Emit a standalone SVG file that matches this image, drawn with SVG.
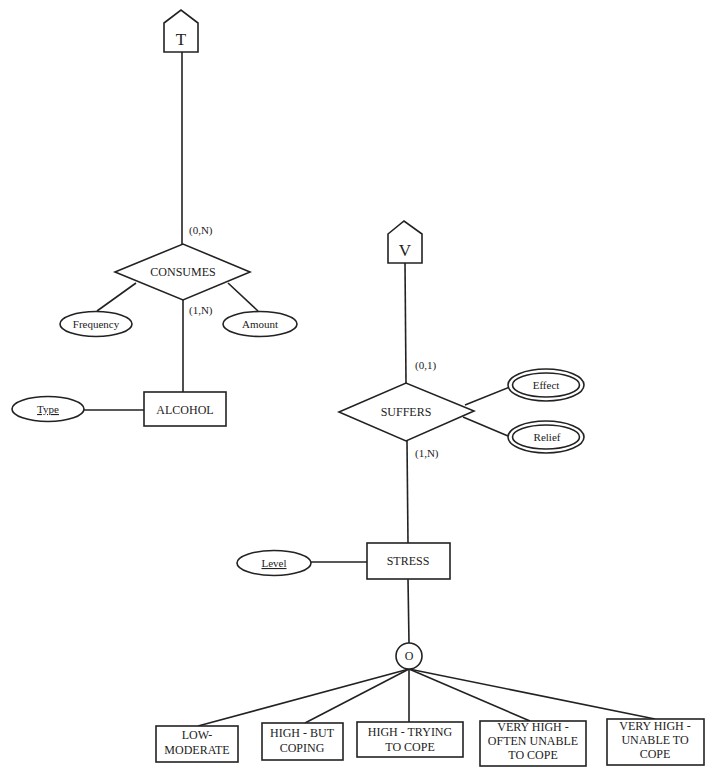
<svg xmlns="http://www.w3.org/2000/svg" width="706" height="768" viewBox="0 0 706 768" font-family="'Liberation Serif', 'DejaVu Serif', 'Times New Roman', serif">
<style>
  .s{fill:#fff;stroke:#222;stroke-width:1.6}
  .c line{stroke:#222;stroke-width:1.6;fill:none}
  text{font-family:'Liberation Serif','DejaVu Serif','Times New Roman',serif;font-size:12px;fill:#222;text-anchor:middle}
  .lab{text-anchor:start;font-size:11px}
  .a{font-size:11px}
  .u{text-decoration:underline}
  .big{font-size:17px}
</style>
<rect width="706" height="768" fill="#fff"/>
<g class="c" id="connectors">
  <line x1="182" y1="52" x2="182" y2="244"/>
  <line x1="136" y1="283" x2="97" y2="311"/>
  <line x1="228" y1="283" x2="258" y2="311"/>
  <line x1="183" y1="300" x2="183" y2="392"/>
  <line x1="84" y1="410" x2="144" y2="410"/>
  <line x1="405" y1="263" x2="406" y2="383"/>
  <line x1="465" y1="405" x2="510" y2="387"/>
  <line x1="463" y1="417" x2="508" y2="436"/>
  <line x1="407" y1="441" x2="408" y2="543"/>
  <line x1="311" y1="562" x2="367" y2="562"/>
  <line x1="408" y1="579" x2="409" y2="643"/>
  <line x1="409" y1="669" x2="198" y2="726"/>
  <line x1="409" y1="669" x2="305" y2="723"/>
  <line x1="409" y1="669" x2="409" y2="722"/>
  <line x1="409" y1="669" x2="530" y2="721"/>
  <line x1="409" y1="669" x2="655" y2="719"/>
</g>
<g id="labels">
  <text class="lab" x="189" y="234">(0,N)</text>
  <text class="lab" x="189" y="314">(1,N)</text>
  <text class="lab" x="415" y="369">(0,1)</text>
  <text class="lab" x="415" y="457">(1,N)</text>
</g>
<g id="T">
  <polygon class="s" points="164,23 181,10 198,23 198,52 164,52"/>
  <text class="big" x="181" y="45">T</text>
</g>
<g id="CONSUMES">
  <polygon class="s" points="115,272 183,244 250,272 183,300"/>
  <text x="183" y="276">CONSUMES</text>
</g>
<g id="Frequency">
  <ellipse class="s" cx="96" cy="324" rx="36" ry="12.5"/>
  <text class="a" x="96" y="328">Frequency</text>
</g>
<g id="Amount">
  <ellipse class="s" cx="260" cy="324" rx="37" ry="12.5"/>
  <text class="a" x="260" y="328">Amount</text>
</g>
<g id="ALCOHOL">
  <rect class="s" x="144" y="392" width="82" height="34"/>
  <text x="185" y="414">ALCOHOL</text>
</g>
<g id="Type">
  <ellipse class="s" cx="48" cy="409" rx="36" ry="12.5"/>
  <text class="a u" x="48" y="413">Type</text>
</g>
<g id="V">
  <polygon class="s" points="388,234 404,221 422,234 422,263 388,263"/>
  <text class="big" x="405" y="256">V</text>
</g>
<g id="SUFFERS">
  <polygon class="s" points="339,412 406,383 474,411 406,441"/>
  <text x="406" y="416">SUFFERS</text>
</g>
<g id="Effect">
  <ellipse class="s" cx="546" cy="385" rx="38" ry="16"/>
  <ellipse class="s" cx="546" cy="385" rx="33.5" ry="12"/>
  <text class="a" x="546" y="389">Effect</text>
</g>
<g id="Relief">
  <ellipse class="s" cx="546" cy="437" rx="38" ry="16"/>
  <ellipse class="s" cx="546" cy="437" rx="33.5" ry="12"/>
  <text class="a" x="547" y="441">Relief</text>
</g>
<g id="STRESS">
  <rect class="s" x="367" y="543" width="83" height="36"/>
  <text x="408" y="565">STRESS</text>
</g>
<g id="Level">
  <ellipse class="s" cx="274" cy="563" rx="37" ry="12.5"/>
  <text class="a u" x="274" y="567">Level</text>
</g>
<g id="O">
  <circle class="s" cx="409" cy="656" r="13"/>
  <text x="409" y="660">O</text>
</g>
<g id="LOW-MODERATE">
  <rect class="s" x="156" y="726" width="82" height="36"/>
  <text x="197" y="739">LOW-</text>
  <text x="197" y="754">MODERATE</text>
</g>
<g id="HIGH-BUT-COPING">
  <rect class="s" x="262" y="723" width="81" height="37"/>
  <text x="302" y="737">HIGH - BUT</text>
  <text x="302" y="752">COPING</text>
</g>
<g id="HIGH-TRYING">
  <rect class="s" x="357" y="722" width="106" height="35"/>
  <text x="410" y="736">HIGH - TRYING</text>
  <text x="410" y="751">TO COPE</text>
</g>
<g id="VERY-HIGH-OFTEN">
  <rect class="s" x="480" y="721" width="106" height="45"/>
  <text x="533" y="731">VERY HIGH -</text>
  <text x="533" y="745">OFTEN UNABLE</text>
  <text x="533" y="759">TO COPE</text>
</g>
<g id="VERY-HIGH-UNABLE">
  <rect class="s" x="607" y="719" width="97" height="46"/>
  <text x="655" y="730">VERY HIGH -</text>
  <text x="655" y="744">UNABLE TO</text>
  <text x="655" y="758">COPE</text>
</g>
</svg>
